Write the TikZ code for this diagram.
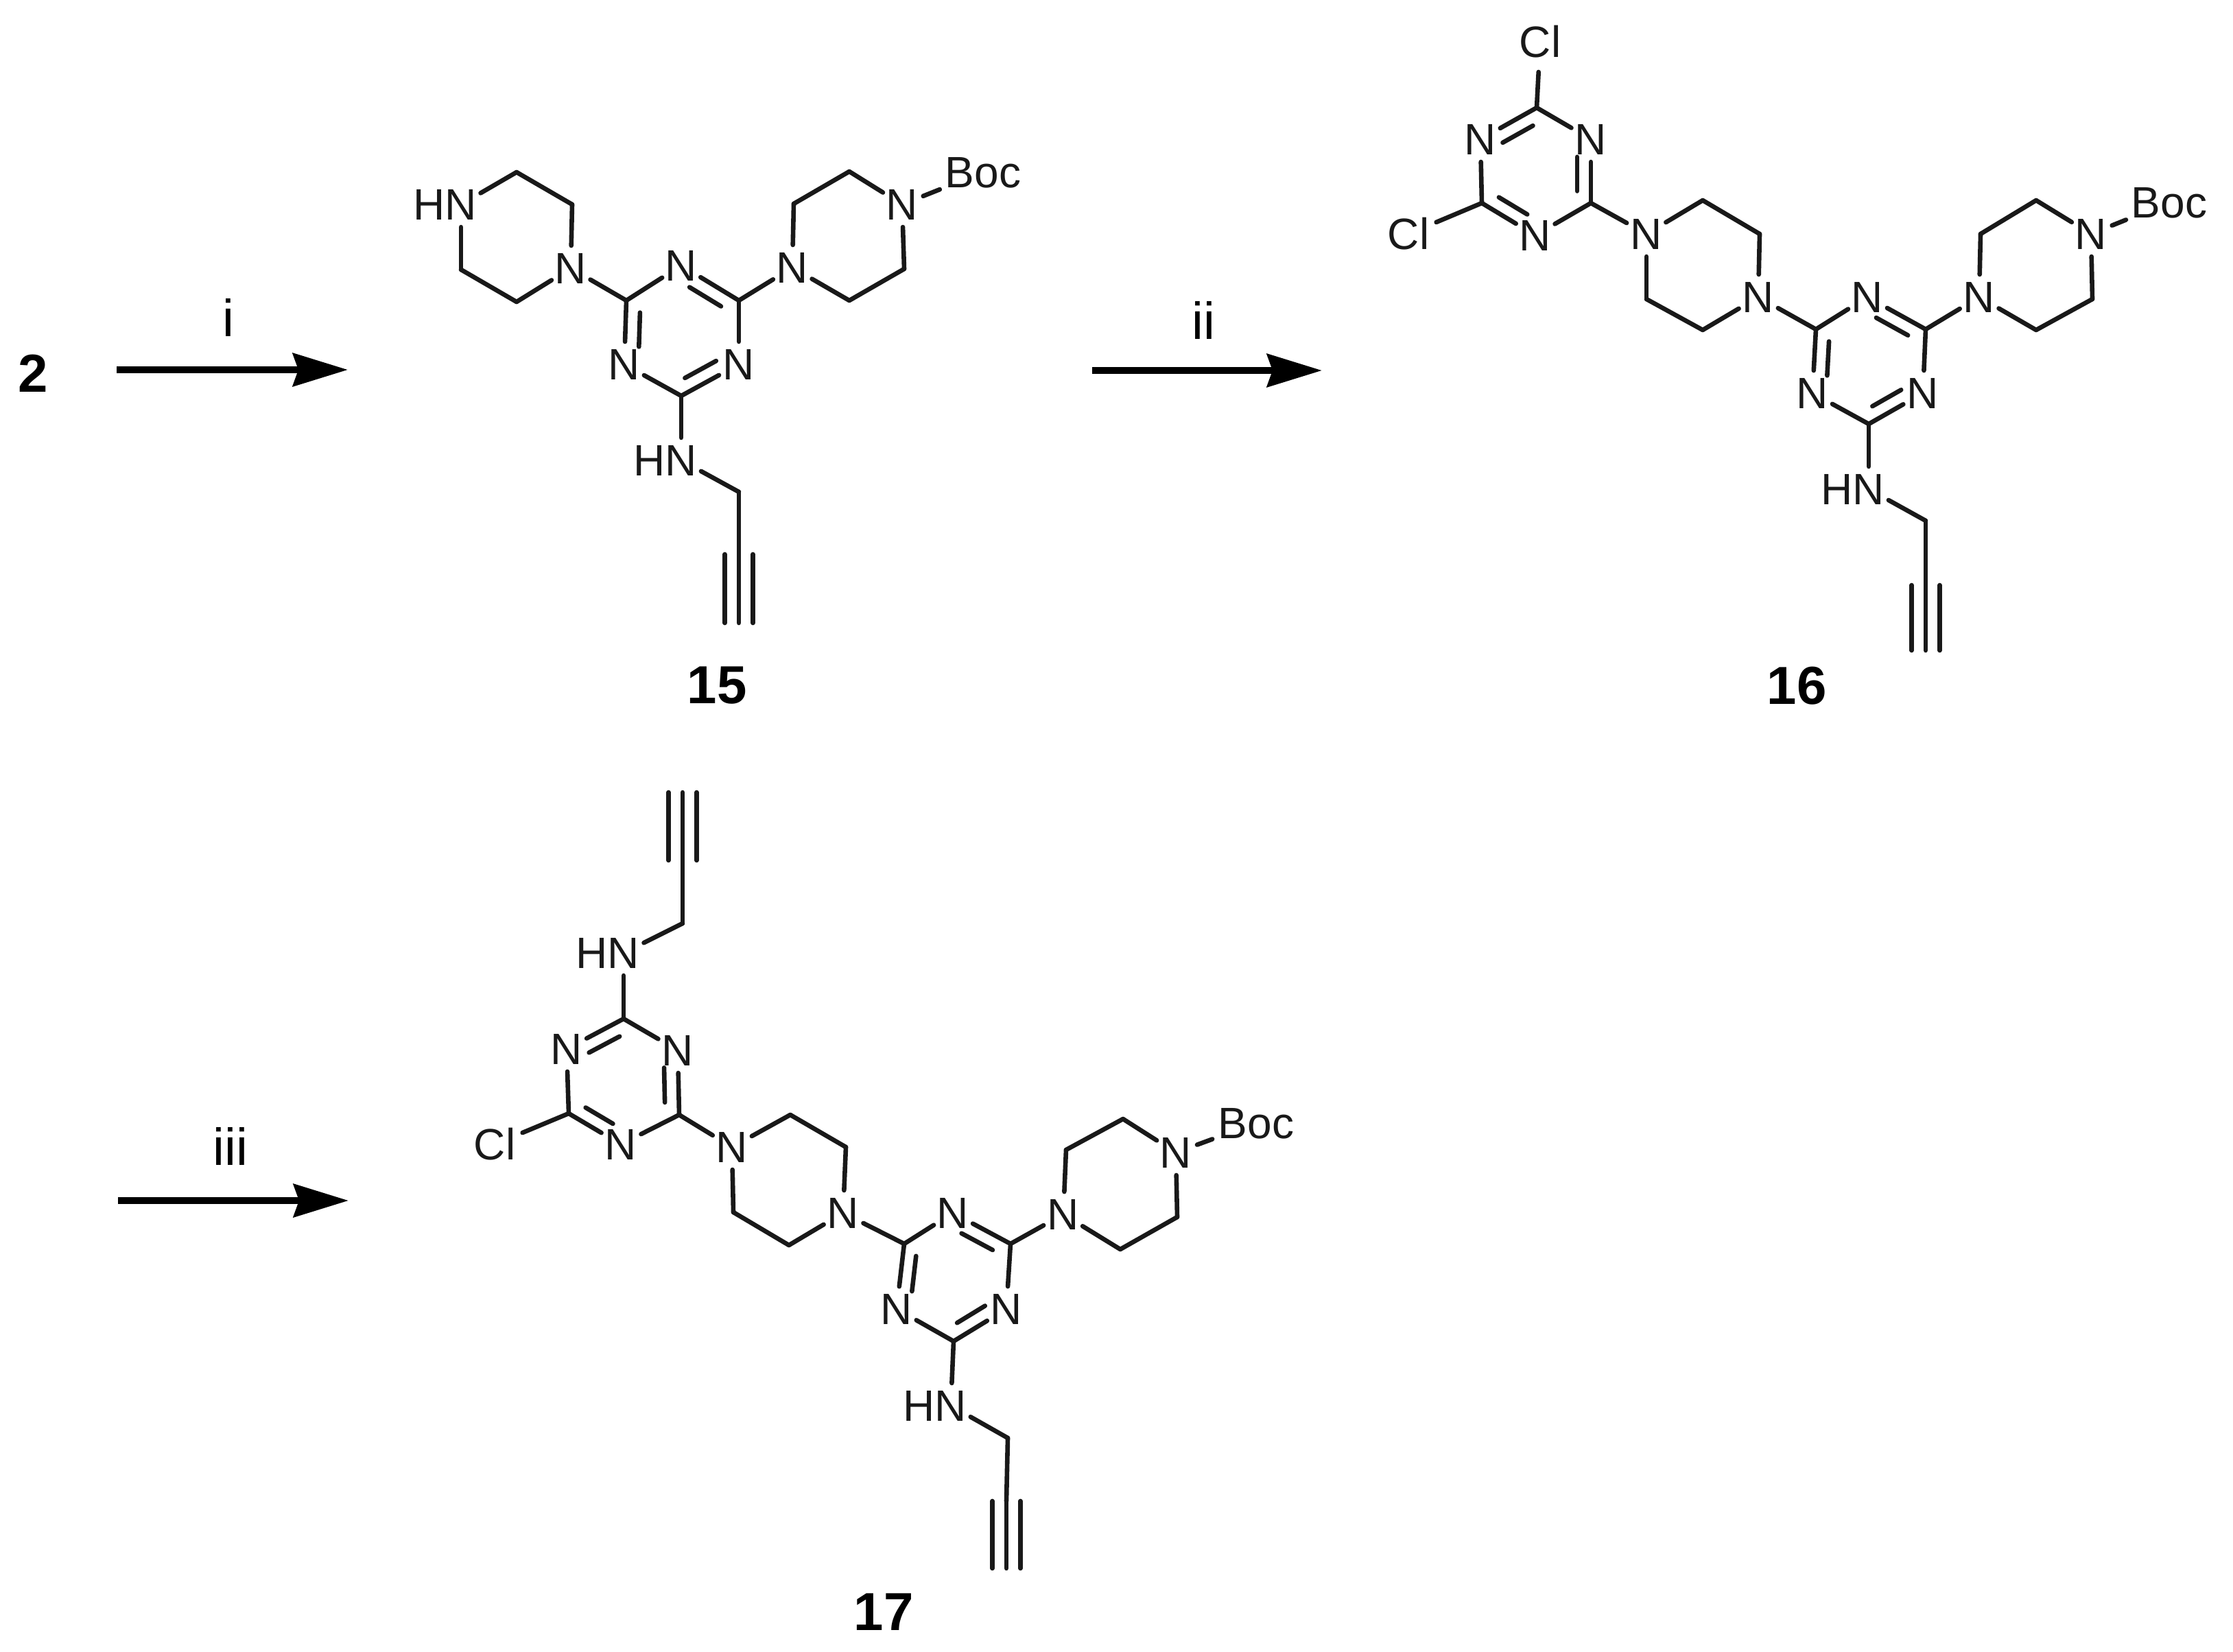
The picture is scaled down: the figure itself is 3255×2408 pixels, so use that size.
\documentclass[tikz,border=0pt]{standalone}
\usepackage{fontspec}
\setmainfont{Liberation Sans}
\usetikzlibrary{calc,arrows.meta}
\newcommand{\atxt}[1]{\raisebox{-0.358em}[0pt][0pt]{\makebox[0pt]{#1}}}
\newcommand{\atN}[2]{\node[atom] (#1) at (#2) {\atxt{N}};}
\newcommand{\atHN}[2]{\node[atom] (#1) at (#2) {\atxt{\llap{H}N}};}
\newcommand{\atCl}[2]{\node[atomcl] (#1) at (#2) {\atxt{Cl}};}
\newcommand{\atBoc}[2]{\node[atomboc] (#1) at (#2) {\atxt{Boc}};}
\newcommand{\atC}[2]{\coordinate (#1) at (#2);}
\newcommand{\innerdb}[3]{\draw[bond,shorten <=1.5pt,shorten >=3.5pt] ($(#1)!.25!(#3)$) -- ($(#2)!.25!(#3)$);}
% ring order: c1=n1 - c2=n2 - c3=n3 - c1
\newcommand{\triazine}[6]{%
  \coordinate (#1#4ctr) at ($(#1)!.5!(#4)$);
  \draw[bond] (#1) -- (#2);
  \draw[bond] (#2) -- (#3);
  \draw[bond] (#3) -- (#4);
  \draw[bond] (#4) -- (#5);
  \draw[bond] (#5) -- (#6);
  \draw[bond] (#6) -- (#1);
  \innerdb{#1}{#2}{#1#4ctr}
  \innerdb{#3}{#4}{#1#4ctr}
  \innerdb{#5}{#6}{#1#4ctr}}
\newcommand{\ring}[6]{%
  \draw[bond] (#1) -- (#2);
  \draw[bond] (#2) -- (#3);
  \draw[bond] (#3) -- (#4);
  \draw[bond] (#4) -- (#5);
  \draw[bond] (#5) -- (#6);
  \draw[bond] (#6) -- (#1);}
\newcommand{\triple}[2]{%
  \draw[bond] (#1) -- (#2);
  \draw[bond] ([xshift=-5.1pt]#1) -- ([xshift=-5.1pt]#2);
  \draw[bond] ([xshift=5.1pt]#1) -- ([xshift=5.1pt]#2);}
\tikzset{
  bond/.style={line width=1.65pt,line cap=round,line join=round,black!90},
  atom/.style={circle,inner sep=0pt,outer sep=0pt,minimum size=16.5pt,font=\fontsize{16}{18}\selectfont,text=black!90},
  atomcl/.style={atom,minimum size=22pt},
  atomboc/.style={atom,minimum size=34pt},
  cpdlabel/.style={inner sep=0pt,font=\fontsize{19.5}{22}\selectfont\bfseries},
  reagent/.style={inner sep=0pt,font=\fontsize{19}{22}\selectfont},
  rxn/.style={line width=2.4pt,-{Stealth[length=20pt,width=12pt,inset=2pt]}}
}
\begin{document}
\begin{tikzpicture}[x=0.25pt,y=-0.25pt]
\path[use as bounding box,fill=white] (0,0) rectangle (3255,2408);

% reaction arrows and reagents
\node[cpdlabel] (two) at (48,544) {2};
\coordinate (a1s) at (170,539);
\coordinate (a1e) at (507,539);
\draw[rxn] (a1s) -- (a1e);
\node[reagent] (r1) at (333,463) {i};
\coordinate (a2s) at (1592,540);
\coordinate (a2e) at (1927,540);
\draw[rxn] (a2s) -- (a2e);
\node[reagent] (r2) at (1754,467) {ii};
\coordinate (a3s) at (172,1750);
\coordinate (a3e) at (508,1750);
\draw[rxn] (a3s) -- (a3e);
\node[reagent] (r3) at (336,1671) {iii};

% compound 15
\atN{aNt}{993,387}\atC{aCr}{1077,438}\atN{aNr}{1077,531}\atC{aCb}{993,577}\atN{aNl}{910,531}\atC{aCl}{913,438}
\triazine{aCr}{aNt}{aCl}{aNl}{aCb}{aNr}
\atN{aPa}{832,391}\atC{aPb}{834,298}\atC{aPc}{753,251}\atHN{aPd}{672,298}\atC{aPe}{672,393}\atC{aPf}{753,440}
\ring{aPa}{aPb}{aPc}{aPd}{aPe}{aPf}
\atN{aQa}{1155,390}\atC{aQb}{1157,297}\atC{aQc}{1238,250}\atN{aQd}{1315,298}\atC{aQe}{1318,392}\atC{aQf}{1238,438}
\ring{aQa}{aQb}{aQc}{aQd}{aQe}{aQf}
\atBoc{aBoc}{1433,251}
\draw[bond] (aQd) -- (aBoc);
\draw[bond] (aCl) -- (aPa);
\draw[bond] (aCr) -- (aQa);
\atHN{aH}{993,671}\atC{aM}{1077,717}\atC{aT}{1077,808}\atC{aU}{1077,908}
\draw[bond] (aCb) -- (aH);
\draw[bond] (aH) -- (aM);
\draw[bond] (aM) -- (aT);
\triple{aT}{aU}
\node[cpdlabel] (c15) at (1045,999) {15};

% compound 16
\atC{bCt}{2240,157}\atN{bNr}{2319,203}\atC{bCr}{2319,296}\atN{bNb}{2238,343}\atC{bCl}{2160,296}\atN{bNl}{2158,203}
\triazine{bCt}{bNl}{bCl}{bNb}{bCr}{bNr}
\atCl{bX}{2245,61}\atCl{bY}{2053,341}
\draw[bond] (bCt) -- (bX);
\draw[bond] (bCl) -- (bY);
\atN{bPa}{2400,341}\atC{bPb}{2482,292}\atC{bPc}{2565,341}\atN{bPd}{2563,433}\atC{bPe}{2482,481}\atC{bPf}{2400,436}
\ring{bPa}{bPb}{bPc}{bPd}{bPe}{bPf}
\draw[bond] (bCr) -- (bPa);
\atN{bMt}{2722,433}\atC{bMr}{2807,480}\atN{bMs}{2803,573}\atC{bMb}{2724,618}\atN{bMu}{2642,573}\atC{bMl}{2647,480}
\triazine{bMr}{bMt}{bMl}{bMu}{bMb}{bMs}
\draw[bond] (bPd) -- (bMl);
\atN{bQa}{2885,433}\atC{bQb}{2887,341}\atC{bQc}{2968,292}\atN{bQd}{3048,341}\atC{bQe}{3050,436}\atC{bQf}{2968,481}
\ring{bQa}{bQb}{bQc}{bQd}{bQe}{bQf}
\draw[bond] (bMr) -- (bQa);
\atBoc{bBoc}{3162,295}
\draw[bond] (bQd) -- (bBoc);
\atHN{bH}{2724,713}\atC{bM}{2807,759}\atC{bT}{2807,853}\atC{bU}{2807,948}
\draw[bond] (bMb) -- (bH);
\draw[bond] (bH) -- (bM);
\draw[bond] (bM) -- (bT);
\triple{bT}{bU}
\node[cpdlabel] (c16) at (2619,1000) {16};

% compound 17
\atC{cU}{995,1155}\atC{cT}{995,1254}\atC{cM}{995,1346}\atHN{cH}{909,1389}
\triple{cT}{cU}
\draw[bond] (cT) -- (cM);
\draw[bond] (cM) -- (cH);
\atC{cCt}{909,1485}\atN{cNr}{988,1531}\atC{cCr}{990,1625}\atN{cNb}{905,1668}\atC{cCl}{829,1623}\atN{cNl}{826,1529}
\triazine{cCt}{cNl}{cCl}{cNb}{cCr}{cNr}
\draw[bond] (cH) -- (cCt);
\atCl{cX}{721,1668}
\draw[bond] (cCl) -- (cX);
\atN{cPa}{1067,1672}\atC{cPb}{1152,1625}\atC{cPc}{1233,1672}\atN{cPd}{1229,1768}\atC{cPe}{1150,1815}\atC{cPf}{1069,1767}
\ring{cPa}{cPb}{cPc}{cPd}{cPe}{cPf}
\draw[bond] (cCr) -- (cPa);
\atN{cMt}{1389,1768}\atC{cMr}{1473,1813}\atN{cMs}{1467,1908}\atC{cMb}{1390,1955}\atN{cMu}{1307,1908}\atC{cMl}{1318,1813}
\triazine{cMr}{cMt}{cMl}{cMu}{cMb}{cMs}
\draw[bond] (cPd) -- (cMl);
\atN{cQa}{1550,1770}\atC{cQb}{1554,1676}\atC{cQc}{1637,1631}\atN{cQd}{1714,1680}\atC{cQe}{1716,1774}\atC{cQf}{1633,1821}
\ring{cQa}{cQb}{cQc}{cQd}{cQe}{cQf}
\draw[bond] (cMr) -- (cQa);
\atBoc{cBoc}{1831,1637}
\draw[bond] (cQd) -- (cBoc);
\atHN{cI}{1386,2049}\atC{cV}{1469,2096}\atC{cW}{1467,2188}\atC{cZ}{1467,2286}
\draw[bond] (cMb) -- (cI);
\draw[bond] (cI) -- (cV);
\draw[bond] (cV) -- (cW);
\triple{cW}{cZ}
\node[cpdlabel] (c17) at (1288,2350) {17};
\end{tikzpicture}
\end{document}
